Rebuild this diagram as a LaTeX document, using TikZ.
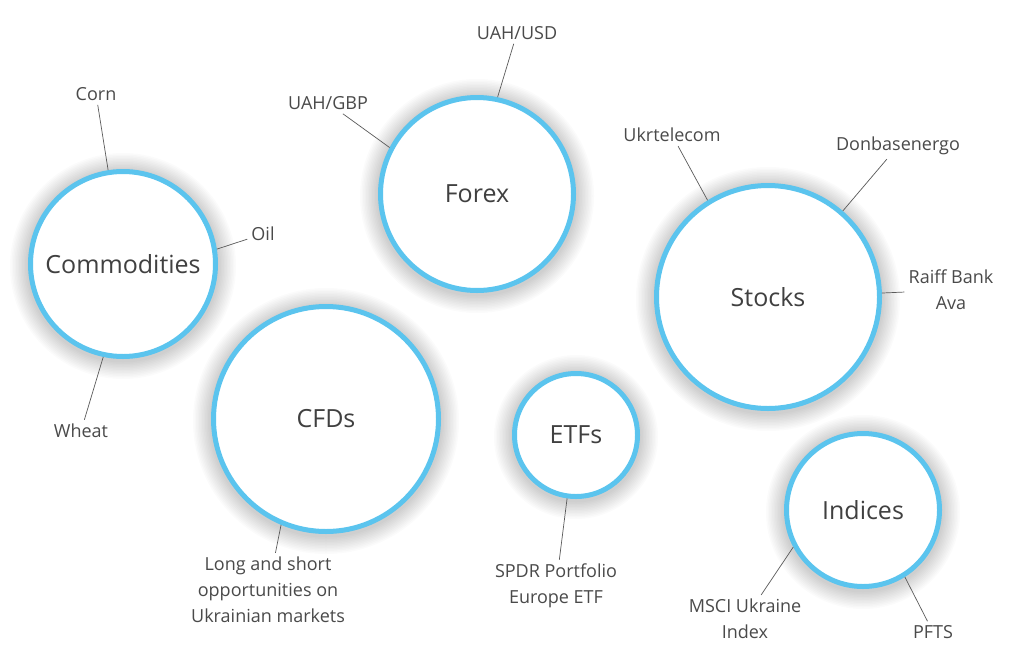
\documentclass[tikz,border=0pt]{standalone}
\usepackage{fontspec}
\setmainfont{Open Sans}
\usetikzlibrary{backgrounds}

\definecolor{ringblue}{HTML}{5BC4EE}
\definecolor{hubgray}{HTML}{404040}
\definecolor{leafgray}{HTML}{4A4A4A}
\definecolor{linkgray}{HTML}{5A5A5A}

\tikzset{
  hub/.style={circle, draw=ringblue, line width=5pt, fill=white, text=hubgray,
    inner sep=0pt, font=\fontsize{25}{30}\selectfont},
  leaf/.style={text=leafgray, align=center, inner sep=4pt,
    font=\fontsize{18}{26}\selectfont},
  link/.style={draw=linkgray, line width=0.7pt},
}

\begin{document}
\begin{tikzpicture}[x=1pt, y=-1pt]
    % --- canvas (pixel grid of the picture) ---
    \useasboundingbox (0,0) rectangle (1024,664);

    % --- market circles ---
    \node[hub, minimum size=185] (com) at (123,264) {Commodities};
    \node[hub, minimum size=193] (fx)  at (477,194) {Forex};
    \node[hub, minimum size=223] (stk) at (768,297) {Stocks};
    \node[hub, minimum size=225] (cfd) at (326,419) {CFDs};
    \node[hub, minimum size=123] (etf) at (576,435) {ETFs};
    \node[hub, minimum size=153] (idx) at (863,510) {Indices};

    % --- soft glow behind the circles ---
    \begin{scope}[on background layer]
      \fill[white] (0,0) rectangle (1024,664);
      \foreach \c/\r in {com/95, fx/99, stk/114, cfd/115, etf/64, idx/79}
        \foreach \k in {1,...,12}
          \fill[black, opacity=0.015] ([yshift=-2pt]\c.center) circle[radius={(\r+\k*1.5)*1pt}];
    \end{scope}

    % --- examples for each market ---
    \node[leaf] (corn)  at (96,94)   {Corn};
    \node[leaf] (oil)   at (263,234) {Oil};
    \node[leaf] (wheat) at (81,431)  {Wheat};
    \node[leaf] (gbp)   at (328,103) {UAH/GBP};
    \node[leaf] (usd)   at (517,33)  {UAH/USD};
    \node[leaf] (ukr)   at (672,135) {Ukrtelecom};
    \node[leaf] (don)   at (898,146) {Donbasenergo};
    \node[leaf] (raif)  at (951,290) {Raiff Bank\\Ava};
    \node[leaf] (long)  at (268,590) {Long and short\\opportunities on\\Ukrainian markets};
    \node[leaf] (spdr)  at (556,586) {SPDR Portfolio\\Europe ETF};
    \node[leaf] (msci)  at (745,619) {MSCI Ukraine\\Index};
    \node[leaf] (pfts)  at (933,632) {PFTS};

    % --- thin leader lines ---
    \draw[link] (corn)  -- (com.99);
    \draw[link] (oil)   -- (com.9);
    \draw[link] (wheat) -- (com.-102);
    \draw[link] (gbp)   -- (fx.152);
    \draw[link] (usd)   -- (fx.78);
    \draw[link] (ukr)   -- (stk.122);
    \draw[link] (don)   -- (stk.49);
    \draw[link] (raif)  -- (stk.2);
    \draw[link] (long)  -- (cfd.-113);
    \draw[link] (spdr)  -- (etf.-98);
    \draw[link] (msci)  -- (idx.-152);
    \draw[link] (pfts)  -- (idx.-58);

\end{tikzpicture}
\end{document}
